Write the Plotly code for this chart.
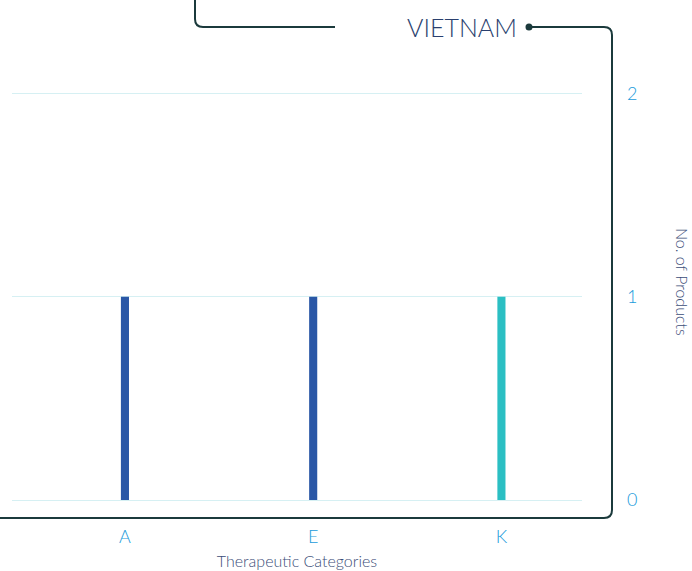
import plotly.graph_objects as go

categories = ["A", "E", "K"]
products = [1, 1, 1]
bar_colors = ["#2a57a6", "#2a57a6", "#2bbfc3"]
y_ticks = [0, 1, 2]
title_text = "VIETNAM"
x_title = "Therapeutic Categories"
y_title = "No. of Products"

W, H = 692, 571
L, R, T, B = 12, 110, 53, 71
pw, ph = W - L - R, H - T - B

def px(x):
    return (x - L) / pw

def py(y):
    return (H - B - y) / ph

fig = go.Figure()
fig.add_trace(go.Bar(
    x=[0, 1, 2], y=products, marker=dict(color=bar_colors, line=dict(width=0)),
    width=0.043, showlegend=False, hoverinfo="x+y",
))

font = "Lato, 'Open Sans', sans-serif"
line_col = "#1b3a3c"
tick_col = "#1a9bdb"
title_col = "#3b4d78"

fig.update_layout(
    width=W, height=H,
    margin=dict(l=L, r=R, t=T, b=B, autoexpand=False),
    paper_bgcolor="white", plot_bgcolor="white",
    font=dict(family=font),
    xaxis=dict(
        range=[-0.6, 2.428], tickvals=[0, 1, 2], ticktext=categories,
        showgrid=False, zeroline=False, showline=False, ticks="",
        tickfont=dict(size=18, color=tick_col, weight=300),
        ticklabelstandoff=24, automargin=False,
        title=dict(text=x_title, font=dict(size=16, color=title_col, weight=300), standoff=9),
    ),
    yaxis=dict(
        side="right", range=[0, 2.2], tickvals=y_ticks,
        showgrid=True, gridcolor="#d6f0f3", gridwidth=1,
        zeroline=True, zerolinecolor="#d6f0f3", zerolinewidth=1,
        showline=False, ticks="", automargin=False,
        tickfont=dict(size=18, color=tick_col, weight=300),
        ticklabelstandoff=44,
    ),
    annotations=[
        dict(text=title_text, x=px(462), y=py(27), xref="paper", yref="paper",
             showarrow=False, font=dict(size=25, color="#2a3f6e", family=font, weight=300),
             xanchor="center", yanchor="middle"),
        dict(text=y_title, x=px(683), y=py(282), xref="paper", yref="paper",
             showarrow=False, textangle=90,
             font=dict(size=16, color=title_col, family=font, weight=300),
             xanchor="center", yanchor="middle"),
    ],
)

r = 8
left_path = (f"M {px(195)},{py(-2)} L {px(195)},{py(27 - r)} "
             f"Q {px(195)},{py(27)} {px(195 + r)},{py(27)} L {px(335)},{py(27)}")
right_path = (f"M {px(529)},{py(27)} L {px(612 - r)},{py(27)} "
              f"Q {px(612)},{py(27)} {px(612)},{py(27 + r)} "
              f"L {px(612)},{py(518 - r)} Q {px(612)},{py(518)} {px(612 - r)},{py(518)} "
              f"L {px(-2)},{py(518)}")
fig.add_shape(type="path", path=left_path, xref="paper", yref="paper",
              line=dict(color=line_col, width=2))
fig.add_shape(type="path", path=right_path, xref="paper", yref="paper",
              line=dict(color=line_col, width=2))
fig.add_shape(type="circle", xref="paper", yref="paper",
              x0=px(525.5), x1=px(532.5), y0=py(30.5), y1=py(23.5),
              fillcolor=line_col, line=dict(color=line_col, width=0))

fig.write_html("out.html", config={"displayModeBar": False},
               post_script="document.body.style.margin='0';document.body.style.overflow='hidden';")
